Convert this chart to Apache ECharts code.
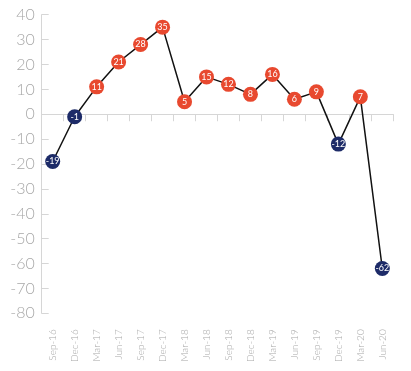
<!DOCTYPE html>
<html>
<head>
<meta charset="utf-8">
<script src="https://cdn.jsdelivr.net/npm/echarts@6/dist/echarts.min.js"></script>
<style>html,body{margin:0;padding:0;background:#fff;}#c{width:411px;height:371px;}</style>
</head>
<body>
<div id="c"></div>
<script>
const categories = ['Sep-16','Dec-16','Mar-17','Jun-17','Sep-17','Dec-17','Mar-18','Jun-18','Sep-18','Dec-18','Mar-19','Jun-19','Sep-19','Dec-19','Mar-20','Jun-20'];
const values = [-19,-1,11,21,28,35,5,15,12,8,16,6,9,-12,7,-62];
const yTicks = {min:-80, max:40, interval:10};
const posColor = '#E8492F';
const negColor = '#1D2B68';
const font = 'Lato';

const seriesData = values.map(v => ({value:v, itemStyle:{color: v < 0 ? negColor : posColor}}));

const chart = echarts.init(document.getElementById('c'));
chart.setOption({
  animation:false,
  grid:{left:41.7, right:17.7, top:14.7, bottom:57.7},
  xAxis:[{
    type:'category', data:categories, boundaryGap:true,
    axisLine:{onZero:true, lineStyle:{color:'#d6d6d6', width:1}},
    axisTick:{show:true, inside:false, length:7, interval:0, lineStyle:{color:'#d6d6d6'}},
    axisLabel:{show:false, interval:0}, splitLine:{show:false}
  },{
    type:'category', data:categories, position:'bottom', boundaryGap:true,
    axisLine:{show:false, onZero:false}, axisTick:{show:false},
    axisLabel:{rotate:90, margin:16, color:'#a8a8a8', fontSize:10, fontFamily:font, fontWeight:300, interval:0}
  }],
  yAxis:{
    type:'value', min:yTicks.min, max:yTicks.max, interval:yTicks.interval,
    axisLine:{show:true, lineStyle:{color:'#d6d6d6'}},
    axisTick:{show:true, inside:true, length:7, lineStyle:{color:'#d6d6d6'}},
    axisLabel:{color:'#a8a8a8', fontSize:16, fontFamily:font, fontWeight:300, margin:7},
    splitLine:{show:false}
  },
  series:[{
    type:'line', data:seriesData, xAxisIndex:0,
    symbol:'circle', symbolSize:15, showSymbol:true, showAllSymbol:true,
    lineStyle:{color:'#111', width:1.5},
    label:{show:true, position:'inside', color:'#fff', fontSize:9, fontFamily:font},
    z:3
  }]
});
</script>
</body>
</html>
